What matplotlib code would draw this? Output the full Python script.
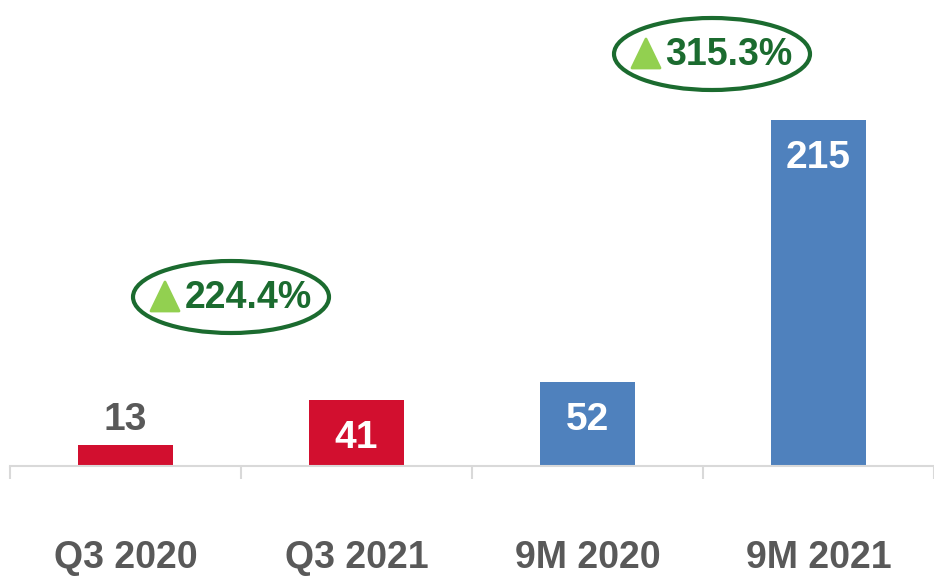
import matplotlib.pyplot as plt
from matplotlib.patches import Ellipse, Polygon

plt.rcParams['font.family'] = ['Liberation Sans', 'DejaVu Sans']

# data
categories = ['Q3 2020', 'Q3 2021', '9M 2020', '9M 2021']
values = [13, 41, 52, 215]
bar_colors = ['#D20F2F', '#D20F2F', '#4F81BD', '#4F81BD']
growth_labels = ['224.4%', '315.3%']

W, H = 934, 577
fig = plt.figure(figsize=(W / 100, H / 100), dpi=100)

# axes: baseline at y=466px, left edge at x=10px
ax = fig.add_axes([10 / W, (H - 466) / H, (W - 10) / W, 466 / H])
ax.set_xlim(-0.5, -0.5 + (W - 10) / 235)
ax.set_ylim(0, 466 / 1.609)

x = list(range(len(categories)))
bars = ax.bar(x, values, width=0.41, color=bar_colors, zorder=2)

# value labels
for xi, v, c in zip(x, values, bar_colors):
    if v < 25:
        ax.annotate(str(v), (xi, v), xytext=(0, 25), textcoords='offset pixels',
                    ha='center', va='center', fontsize=28, fontweight='bold', color='#595959')
    else:
        ax.annotate(str(v), (xi, v), xytext=(0, -38), textcoords='offset pixels',
                    ha='center', va='center', fontsize=28, fontweight='bold', color='white')

for s in ['top', 'right', 'left']:
    ax.spines[s].set_visible(False)
ax.spines['bottom'].set_color('#d9d9d9')
ax.spines['bottom'].set_linewidth(1.5)
ax.set_yticks([])

# ticks at category boundaries, labels at centres
ax.set_xticks([i - 0.5 for i in range(len(categories) + 1)])
ax.set_xticklabels([])
ax.tick_params(axis='x', which='major', length=9, width=1.5, color='#d9d9d9', direction='out')
ax.set_xticks(x, minor=True)
ax.set_xticklabels(categories, minor=True, fontsize=27, fontweight='bold', color='#595959')
ax.tick_params(axis='x', which='minor', length=0, pad=53)


def fx(px):
    return px / W


def fy(py):
    return (H - py) / H


# growth callouts (pixel positions of the ellipse centres)
callouts = [(231, 297), (712, 54)]
green = '#1B6B2F'
for (cx, cy), txt in zip(callouts, growth_labels):
    e = Ellipse((fx(cx), fy(cy)), 196 / W, 72 / H, transform=fig.transFigure,
                fill=False, edgecolor=green, linewidth=3)
    fig.add_artist(e)
    tx = cx - 80
    tri = Polygon([(fx(tx), fy(cy + 14)), (fx(tx + 28), fy(cy + 14)), (fx(tx + 14), fy(cy - 15))],
                  closed=True, transform=fig.transFigure, facecolor='#92D050',
                  edgecolor='#92D050', linewidth=2, joinstyle='round')
    fig.add_artist(tri)
    fig.text(fx(cx + 17), fy(cy + 1), txt, ha='center', va='center', fontsize=27,
             fontweight='bold', color=green)

fig.savefig('out.png', dpi=100)
